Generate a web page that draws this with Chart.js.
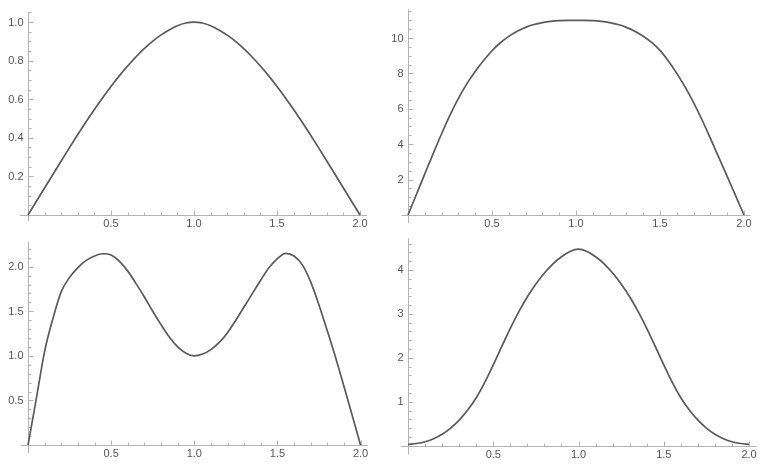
<!DOCTYPE html>
<html>
<head>
<meta charset="utf-8">
<script src="https://cdn.jsdelivr.net/npm/chart.js@4.4.1/dist/chart.umd.min.js"></script>
<style>
  html, body { margin: 0; padding: 0; background: #fff; }
  #wrap { position: relative; width: 767px; height: 473px; }
  #wrap canvas { position: absolute; left: 0; top: 0; }
</style>
</head>
<body>
<div id="wrap">
  <canvas id="c1" width="767" height="473"></canvas>
  <canvas id="c2" width="767" height="473"></canvas>
  <canvas id="c3" width="767" height="473"></canvas>
  <canvas id="c4" width="767" height="473"></canvas>
</div>
<script>
// sample positions shared by all four plots
const xs = [0, 0.05, 0.1, 0.15, 0.2, 0.25, 0.3, 0.35, 0.4, 0.45, 0.5,
            0.55, 0.6, 0.65, 0.7, 0.75, 0.8, 0.85, 0.9, 0.95, 1.0,
            1.05, 1.1, 1.15, 1.2, 1.25, 1.3, 1.35, 1.4, 1.45, 1.5,
            1.55, 1.6, 1.65, 1.7, 1.75, 1.8, 1.85, 1.9, 1.95, 2.0];

// values
const topLeft = [0, 0.07, 0.14, 0.21, 0.28, 0.349, 0.417, 0.483, 0.547, 0.608, 0.666,
                 0.721, 0.772, 0.819, 0.862, 0.9, 0.932, 0.959, 0.981, 0.995, 1.0,
                 0.995, 0.981, 0.959, 0.932, 0.9, 0.862, 0.819, 0.772, 0.721, 0.666,
                 0.608, 0.547, 0.483, 0.417, 0.349, 0.28, 0.21, 0.14, 0.07, 0];
const topRight = [0, 1.16, 2.32, 3.47, 4.59, 5.64, 6.59, 7.41, 8.11, 8.73, 9.28,
                  9.73, 10.09, 10.38, 10.6, 10.76, 10.87, 10.94, 10.98, 11.0, 11.0,
                  11.0, 10.98, 10.94, 10.87, 10.76, 10.6, 10.38, 10.1, 9.75, 9.3,
                  8.7, 8.0, 7.22, 6.35, 5.38, 4.33, 3.26, 2.18, 1.09, 0];
const bottomLeft = [0, 0.52, 1.05, 1.42, 1.72, 1.88, 1.99, 2.07, 2.12, 2.145, 2.13,
                    2.06, 1.95, 1.81, 1.66, 1.5, 1.35, 1.21, 1.1, 1.03, 1.0,
                    1.02, 1.07, 1.15, 1.26, 1.4, 1.55, 1.7, 1.85, 1.99, 2.09,
                    2.15, 2.12, 2.02, 1.83, 1.57, 1.28, 0.98, 0.66, 0.33, 0];
const bottomRight = [0.03, 0.05, 0.09, 0.16, 0.26, 0.4, 0.58, 0.81, 1.09, 1.44, 1.84,
                     2.26, 2.67, 3.05, 3.39, 3.68, 3.93, 4.14, 4.3, 4.42, 4.475,
                     4.42, 4.3, 4.14, 3.93, 3.68, 3.39, 3.05, 2.67, 2.26, 1.84,
                     1.44, 1.09, 0.81, 0.58, 0.4, 0.26, 0.16, 0.09, 0.05, 0.03];

// tick labels
const xTicks = [0.5, 1.0, 1.5, 2.0];
const xTickLabels = ['0.5', '1.0', '1.5', '2.0'];
const yTicksTL = [0.2, 0.4, 0.6, 0.8, 1.0];
const yLabelsTL = ['0.2', '0.4', '0.6', '0.8', '1.0'];
const yTicksTR = [2, 4, 6, 8, 10];
const yLabelsTR = ['2', '4', '6', '8', '10'];
const yTicksBL = [0.5, 1.0, 1.5, 2.0];
const yLabelsBL = ['0.5', '1.0', '1.5', '2.0'];
const yTicksBR = [1, 2, 3, 4];
const yLabelsBR = ['1', '2', '3', '4'];

const AXIS = '#b4b4b4';
const LABEL = '#555555';
const CURVE = '#5a5a5a';

// Mathematica-looking axes: lines through the origin, inward ticks
const mmaAxes = {
  id: 'mmaAxes',
  beforeDatasetsDraw(chart, args, o) {
    const { ctx, chartArea: a, scales: { x, y } } = chart;
    const x0 = Math.round(x.getPixelForValue(0)) + 0.5;
    const y0 = Math.round(y.getPixelForValue(0)) + 0.5;
    ctx.save();
    ctx.strokeStyle = AXIS;
    ctx.lineWidth = 1;
    ctx.beginPath();
    ctx.moveTo(a.left, y0); ctx.lineTo(a.right, y0);
    ctx.moveTo(x0, a.top); ctx.lineTo(x0, a.bottom);

    const isMajor = (v, list) => list.some(t => Math.abs(t - v) < 1e-6);
    for (let i = 1; i * o.xMinor <= x.max + 1e-9; i++) {
      const v = i * o.xMinor;
      const px = Math.round(x.getPixelForValue(v)) + 0.5;
      const len = isMajor(v, o.xTicks) ? 5 : 3;
      ctx.moveTo(px, y0); ctx.lineTo(px, y0 - len);
    }
    for (let i = 1; i * o.yMinor <= y.max + 1e-9; i++) {
      const v = i * o.yMinor;
      const py = Math.round(y.getPixelForValue(v)) + 0.5;
      const len = isMajor(v, o.yTicks) ? 5 : 3;
      ctx.moveTo(x0, py); ctx.lineTo(x0 + len, py);
    }
    ctx.stroke();

    ctx.fillStyle = LABEL;
    ctx.font = '11px "Liberation Sans", Arial, sans-serif';
    ctx.textAlign = 'center';
    ctx.textBaseline = 'middle';
    o.xTicks.forEach((v, i) => {
      ctx.fillText(o.xLabels[i], x.getPixelForValue(v), y0 + 8.5);
    });
    ctx.textAlign = 'right';
    o.yTicks.forEach((v, i) => {
      ctx.fillText(o.yLabels[i], x0 - 5, y.getPixelForValue(v) + 0.5);
    });
    ctx.restore();
  }
};

function makePanel(id, values, cfg) {
  return new Chart(document.getElementById(id), {
    type: 'line',
    data: {
      datasets: [{
        data: xs.map((v, i) => ({ x: v, y: values[i] })),
        borderColor: CURVE,
        borderWidth: 1.7,
        pointRadius: 0,
        fill: false,
        cubicInterpolationMode: 'monotone'
      }]
    },
    options: {
      responsive: false,
      animation: false,
      events: [],
      layout: { padding: cfg.padding },
      plugins: {
        legend: { display: false },
        tooltip: { enabled: false },
        mmaAxes: {
          xTicks: xTicks, xLabels: xTickLabels, xMinor: 0.1,
          yTicks: cfg.yTicks, yLabels: cfg.yLabels, yMinor: cfg.yMinor
        }
      },
      scales: {
        x: { type: 'linear', min: cfg.x[0], max: cfg.x[1], display: false },
        y: { type: 'linear', min: cfg.y[0], max: cfg.y[1], display: false }
      }
    },
    plugins: [mmaAxes]
  });
}

makePanel('c1', topLeft, {
  x: [-0.048, 2.042], y: [-0.031, 1.052],
  padding: { left: 20, right: 400, top: 12, bottom: 252 },
  yTicks: yTicksTL, yLabels: yLabelsTL, yMinor: 0.05
});
makePanel('c2', topRight, {
  x: [-0.0375, 2.04], y: [-0.452, 11.62],
  padding: { left: 401.7, right: 16.3, top: 9.3, bottom: 250 },
  yTicks: yTicksTR, yLabels: yLabelsTR, yMinor: 0.5
});
makePanel('c3', bottomLeft, {
  x: [-0.044, 2.043], y: [-0.0897, 2.28],
  padding: { left: 20.7, right: 399.3, top: 241.7, bottom: 20 },
  yTicks: yTicksBL, yLabels: yLabelsBL, yMinor: 0.1
});
makePanel('c4', bottomRight, {
  x: [-0.043, 2.045], y: [-0.205, 4.72],
  padding: { left: 400.7, right: 10.3, top: 238.3, bottom: 18.3 },
  yTicks: yTicksBR, yLabels: yLabelsBR, yMinor: 0.2
});
</script>
</body>
</html>
